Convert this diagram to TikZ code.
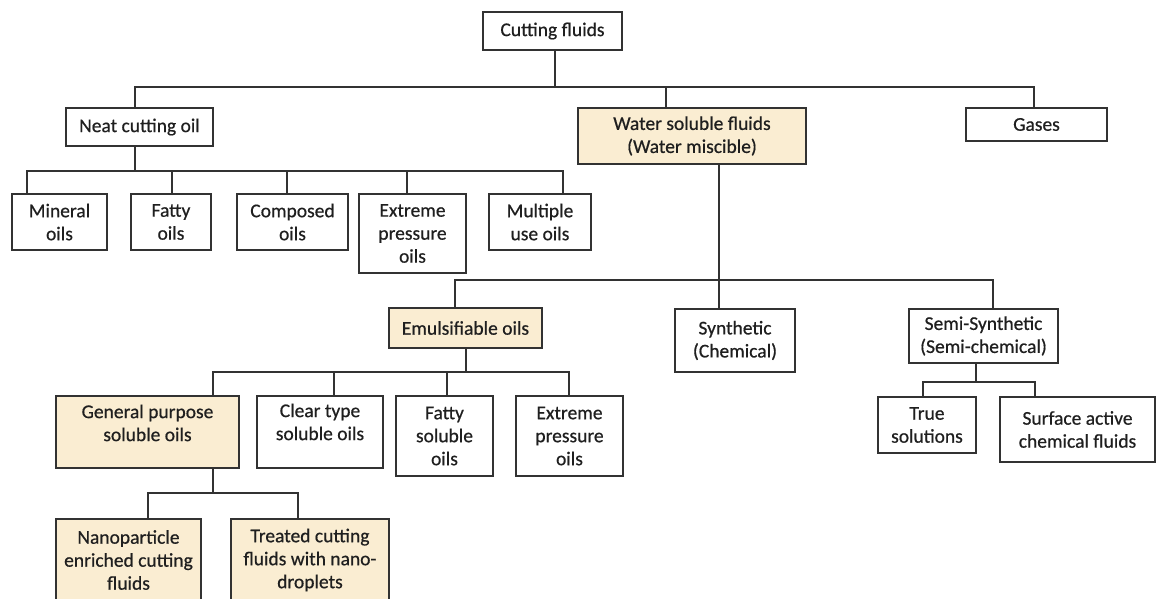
\documentclass[tikz,border=0pt]{standalone}
\usepackage{fontspec}
\setmainfont{Carlito}[FakeBold=0.6]
\definecolor{cfbeige}{RGB}{250,237,210}
\definecolor{cfline}{RGB}{50,50,50}
\newcommand\cfraise[2]{\raisebox{#1}[\height][\depth]{\begin{tabular}{@{}c@{}}#2\end{tabular}}}
\tikzset{
  box/.style={draw=cfline, line width=1.4pt, rectangle, inner sep=2pt, align=center,
    font=\fontsize{19.5}{23}\selectfont, text=black!88},
  hl/.style={box, fill=cfbeige},
  link/.style={draw=cfline, line width=1.4pt, line join=miter},
}
\begin{document}
\begin{tikzpicture}[x=1pt,y=-1pt]
\path[use as bounding box] (0,0) rectangle (1157,598);
\clip (0,0) rectangle (1157,598);
% level 0
\node[box, minimum width=139pt, minimum height=38pt] (cf) at (552.5,31) {Cutting fluids};
% level 1
\node[box, minimum width=147pt, minimum height=38pt] (neat) at (139.5,127) {Neat cutting oil};
\node[hl, minimum width=228pt, minimum height=56pt] (water) at (692,136) {Water soluble fluids\\(Water miscible)};
\node[box, minimum width=141pt, minimum height=33pt] (gases) at (1036.5,124.5) {Gases};
% neat children
\node[box, minimum width=95pt, minimum height=56pt] (mineral) at (59.5,222) {Mineral\\oils};
\node[box, minimum width=80pt, minimum height=56pt] (fatty) at (171,222) {Fatty\\oils};
\node[box, minimum width=111pt, minimum height=56pt] (composed) at (292.5,222) {Composed\\oils};
\node[box, minimum width=107pt, minimum height=79pt] (extreme) at (412.5,233.5) {Extreme\\pressure\\oils};
\node[box, minimum width=102pt, minimum height=56pt] (multiple) at (540,222) {Multiple\\use oils};
% water children
\node[hl, minimum width=153pt, minimum height=40pt] (emul) at (465.5,328) {Emulsifiable oils};
\node[box, minimum width=120pt, minimum height=63pt] (synth) at (735,340.5) {Synthetic\\(Chemical)};
\node[box, minimum width=149pt, minimum height=54pt] (semi) at (983.5,336) {Semi-Synthetic\\(Semi-chemical)};
% emul children
\node[hl, minimum width=183pt, minimum height=72pt] (gp) at (147.5,432) {\cfraise{7pt}{General purpose\\soluble oils}};
\node[box, minimum width=126pt, minimum height=72pt] (clear) at (320,432) {\cfraise{8pt}{Clear type\\soluble oils}};
\node[box, minimum width=97pt, minimum height=80pt] (fattys) at (444.5,436) {Fatty\\soluble\\oils};
\node[box, minimum width=107pt, minimum height=80pt] (eps) at (569.5,436) {Extreme\\pressure\\oils};
% semi children
\node[box, minimum width=98pt, minimum height=56pt] (true) at (927,425) {True\\solutions};
\node[box, minimum width=155pt, minimum height=65pt] (surf) at (1077.5,429.5) {Surface active\\chemical fluids};
% gp children
\node[hl, minimum width=145pt, minimum height=82pt] (nano) at (128.5,560) {Nanoparticle\\enriched cutting\\fluids};
\node[hl, minimum width=158pt, minimum height=82pt] (treated) at (310,560) {Treated cutting\\fluids with nano-\\droplets};
% connectors level 0 -> 1
\draw[link] (cf.south -| 555,0) -- (555,87);
\draw[link] (neat.north -| 135,0) -- (135,87) -- (1034,87) -- (gases.north -| 1034,0);
\draw[link] (water.north -| 666,0) -- (666,87);
% neat -> children
\draw[link] (neat.south -| 135,0) -- (135,171);
\draw[link] (mineral.north -| 27,0) -- (27,171) -- (563,171) -- (multiple.north -| 563,0);
\draw[link] (fatty.north -| 172,0) -- (172,171);
\draw[link] (composed.north -| 287,0) -- (287,171);
\draw[link] (extreme.north -| 407,0) -- (407,171);
% water -> children
\draw[link] (water.south -| 719,0) -- (synth.north -| 719,0);
\draw[link] (emul.north -| 455,0) -- (455,280) -- (993,280) -- (semi.north -| 993,0);
% emul -> children
\draw[link] (emul.south -| 466,0) -- (466,372);
\draw[link] (gp.north -| 213,0) -- (213,372) -- (569,372) -- (eps.north -| 569,0);
\draw[link] (clear.north -| 334,0) -- (334,372);
\draw[link] (fattys.north -| 447,0) -- (447,372);
% gp -> children
\draw[link] (gp.south -| 213,0) -- (213,493);
\draw[link] (nano.north -| 148,0) -- (148,493) -- (298,493) -- (treated.north -| 298,0);
% semi -> children
\draw[link] (semi.south -| 976,0) -- (976,382);
\draw[link] (true.north -| 923,0) -- (923,382) -- (1035,382) -- (surf.north -| 1035,0);
\end{tikzpicture}
\end{document}
